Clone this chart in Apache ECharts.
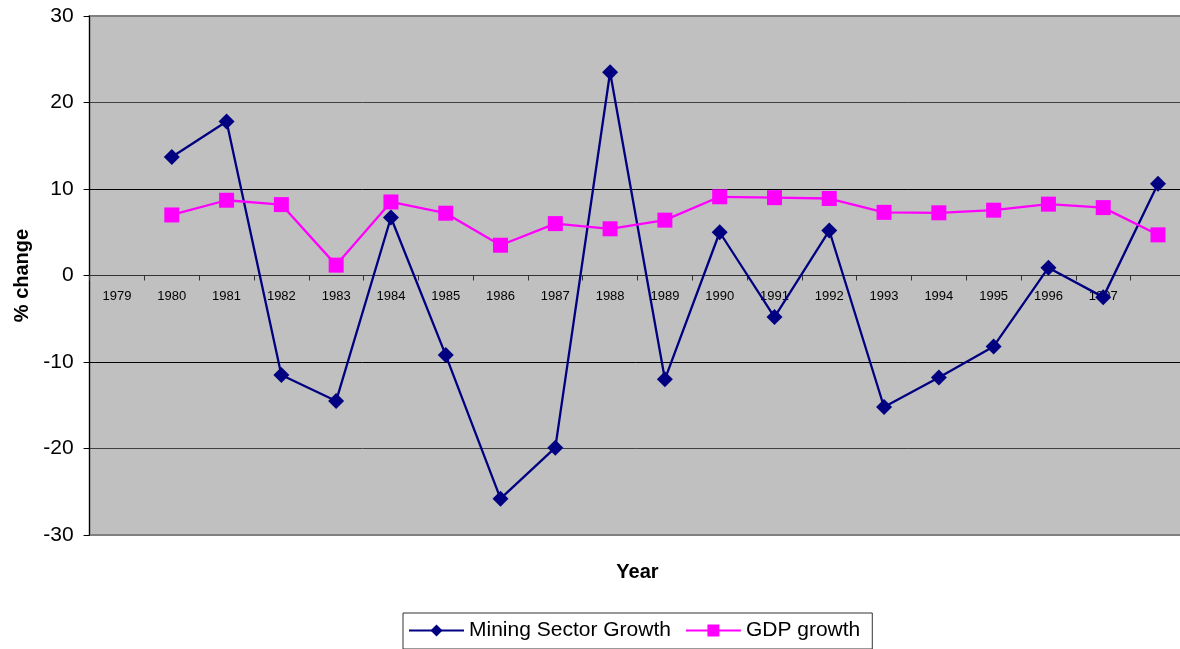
<!DOCTYPE html>
<html>
<head>
<meta charset="utf-8">
<title>Mining Sector Growth vs GDP growth</title>
<script src="https://cdn.jsdelivr.net/npm/echarts@6/dist/echarts.min.js"></script>
<style>
  html, body { margin: 0; padding: 0; background: #ffffff; }
  #chart { width: 1180px; height: 649px; }
</style>
</head>
<body>
<div id="chart"></div>
<script>
// Category slots along the x axis (the final slot carries no label)
const years = ['1979', '1980', '1981', '1982', '1983', '1984', '1985', '1986', '1987', '1988',
               '1989', '1990', '1991', '1992', '1993', '1994', '1995', '1996', '1997', ''];

// Annual % change, mining sector
const miningGrowth = [null, 13.7, 17.8, -11.5, -14.5, 6.7, -9.2, -25.8, -19.9, 23.5,
                      -12.0, 5.0, -4.8, 5.2, -15.2, -11.8, -8.2, 0.9, -2.5, 10.6];

// Annual % change, GDP
const gdpGrowth = [null, 7.0, 8.7, 8.2, 1.2, 8.5, 7.2, 3.5, 6.0, 5.4,
                   6.4, 9.1, 9.0, 8.9, 7.3, 7.25, 7.55, 8.25, 7.85, 4.7];

// Value axis range and step
const yMin = -30, yMax = 30, yStep = 10;

const FONT = 'Liberation Sans, Arial, Helvetica, sans-serif';

// Plot area box (px)
const plotTop = 16, plotBottomGap = 114, plotHeight = 649 - plotTop - plotBottomGap;
// The category axis sits on the zero line: shift it up from the plot bottom
// by the pixel distance of 0 from yMin.
const zeroOffset = -plotHeight * (0 - yMin) / (yMax - yMin);

const chart = echarts.init(document.getElementById('chart'), null, { renderer: 'canvas' });

chart.setOption({
  animation: false,
  textStyle: { fontFamily: FONT, color: '#000' },
  grid: {
    left: 89.6,
    top: plotTop,
    right: -5.4,
    bottom: plotBottomGap,
    show: true,
    backgroundColor: '#C0C0C0',
    borderColor: '#808080',
    borderWidth: 2,
    containLabel: false,
    outerBoundsMode: 'none'
  },
  legend: {
    left: 403,
    top: 613,
    orient: 'horizontal',
    padding: [7, 12, 8, 5],
    itemGap: 14,
    itemWidth: 55,
    itemHeight: 15,
    borderColor: '#333',
    borderWidth: 1,
    backgroundColor: '#fff',
    textStyle: { fontFamily: FONT, fontSize: 21, color: '#000', lineHeight: 20 },
    data: ['Mining Sector Growth', 'GDP growth']
  },
  xAxis: {
    type: 'category',
    data: years,
    boundaryGap: true,
    position: 'bottom',
    offset: zeroOffset,
    name: 'Year',
    nameLocation: 'middle',
    nameGap: 287,
    nameTextStyle: { fontFamily: FONT, fontSize: 20, fontWeight: 'bold', color: '#000' },
    axisLine: { show: true, onZero: false, lineStyle: { color: '#333', width: 1 } },
    axisTick: { show: true, interval: 0, length: 5, lineStyle: { color: '#333' } },
    axisLabel: { interval: 0, margin: 14, fontSize: 13, color: '#000', fontFamily: FONT },
    splitLine: { show: false }
  },
  yAxis: {
    type: 'value',
    min: yMin,
    max: yMax,
    interval: yStep,
    name: '% change',
    nameLocation: 'middle',
    nameRotate: 90,
    nameGap: 56,
    nameTextStyle: { fontFamily: FONT, fontSize: 20, fontWeight: 'bold', color: '#000' },
    axisLine: { show: true, lineStyle: { color: '#000', width: 1 } },
    axisTick: { show: true, length: 6, lineStyle: { color: '#000' } },
    axisLabel: { margin: 16, fontSize: 21, color: '#000', fontFamily: FONT },
    splitLine: {
      show: true,
      lineStyle: {
        width: 1,
        color: ['rgba(0,0,0,0)', '#404040', '#000', 'rgba(0,0,0,0)', '#000', '#404040', 'rgba(0,0,0,0)']
      }
    }
  },
  series: [
    {
      name: 'Mining Sector Growth',
      type: 'line',
      data: miningGrowth,
      symbol: 'diamond',
      symbolSize: 16,
      showAllSymbol: true,
      connectNulls: false,
      lineStyle: { color: '#000080', width: 2.3 },
      itemStyle: { color: '#000080' },
      emphasis: { disabled: true }
    },
    {
      name: 'GDP growth',
      type: 'line',
      data: gdpGrowth,
      symbol: 'rect',
      symbolSize: 15,
      showAllSymbol: true,
      connectNulls: false,
      lineStyle: { color: '#FF00FF', width: 2.3 },
      itemStyle: { color: '#FF00FF' },
      emphasis: { disabled: true }
    }
  ]
});
</script>
</body>
</html>
